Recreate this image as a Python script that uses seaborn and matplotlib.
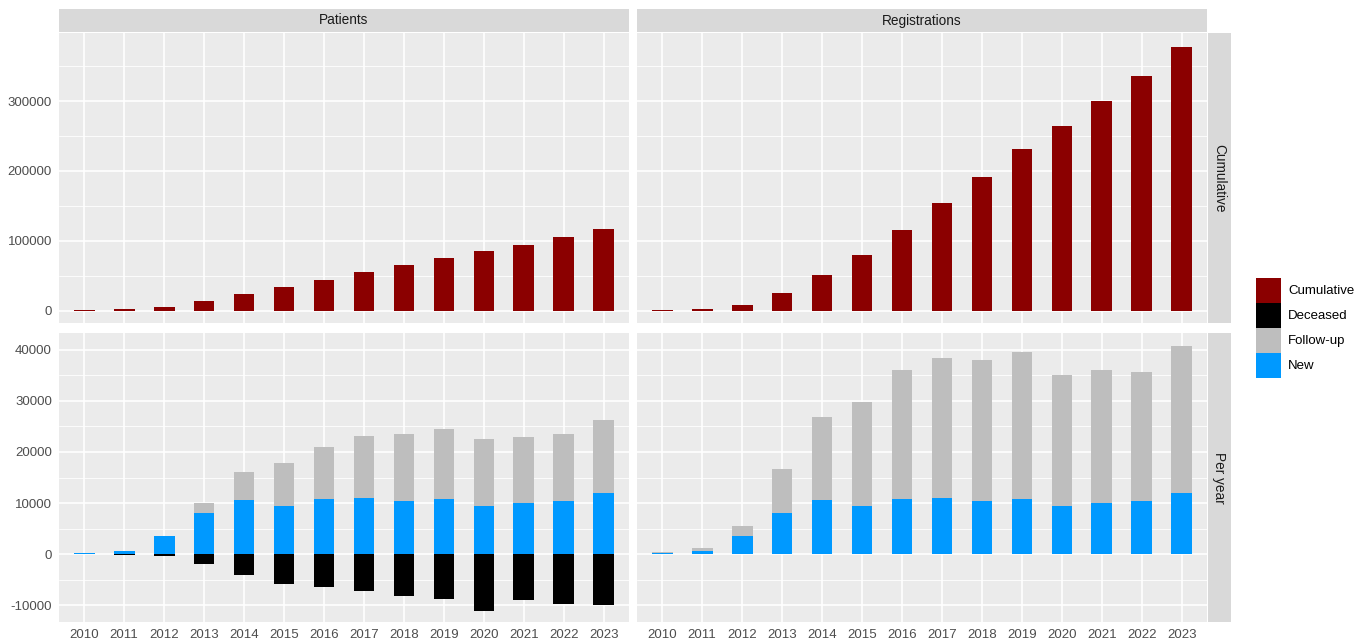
import numpy as np
import pandas as pd
import matplotlib
matplotlib.use("Agg")
import matplotlib.pyplot as plt
from matplotlib.patches import Rectangle
import seaborn as sns

# ---- data -------------------------------------------------------------
years = [2010, 2011, 2012, 2013, 2014, 2015, 2016, 2017, 2018, 2019, 2020, 2021, 2022, 2023]

patients_cumulative = [1500, 2000, 5500, 13900, 23800, 33300, 43800, 54800, 65200,
                       75200, 84800, 94300, 104800, 116700]
registrations_cumulative = [1500, 2000, 8100, 24700, 50700, 80100, 115600, 154000,
                            191300, 230700, 264800, 300700, 336200, 377000]

new_per_year = [300, 700, 3450, 8060, 10540, 9430, 10860, 10930, 10400, 10730,
                9370, 10080, 10470, 12030]
patients_followup = [0, 0, 130, 1890, 5460, 8330, 10140, 12220, 13080, 13860,
                     13130, 12810, 13070, 14310]
patients_deceased = [0, -200, -450, -1950, -4030, -5920, -6500, -7220, -8260, -8780,
                     -11060, -8980, -9690, -10020]
registrations_followup = [30, 400, 2080, 8660, 16260, 20290, 25170, 27380, 27520,
                          28940, 25620, 26020, 25170, 28820]

facet_cols = ["Patients", "Registrations"]
facet_rows = ["Cumulative", "Per year"]
legend_labels = ["Cumulative", "Deceased", "Follow-up", "New"]

colors = {"Cumulative": "#8B0000", "Deceased": "#000000",
          "Follow-up": "#BEBEBE", "New": "#0099FF"}

# ---- theme (ggplot2 grey look) ----------------------------------------
sns.set_theme(style="darkgrid")
plt.rcParams["font.family"] = ["Liberation Sans", "DejaVu Sans"]

W, H = 1367, 644
fig = plt.figure(figsize=(W / 100, H / 100), dpi=100)
fig.patch.set_facecolor("white")


def px_axes(x0, y0, x1, y1, **kw):
    return fig.add_axes([x0 / W, 1 - y1 / H, (x1 - x0) / W, (y1 - y0) / H], **kw)


panel_x = [(59, 629), (637, 1207)]
panel_y = [(33, 323), (333, 622)]

BG = "#EBEBEB"
STRIP = "#D9D9D9"
TICK_COL = "#4D4D4D"
BAR_W = 0.52

row_limits = [(-17600, 397300), (-13300, 43300)]
row_major = [[0, 100000, 200000, 300000], [-10000, 0, 10000, 20000, 30000, 40000]]
row_minor = [np.arange(50000, 400001, 100000), np.arange(-5000, 40001, 10000)]


def bars(ax, values, color):
    df = pd.DataFrame({"year": [str(y) for y in years], "value": values})
    sns.barplot(data=df, x="year", y="value", color=color, width=BAR_W,
                saturation=1, ax=ax, errorbar=None, linewidth=0)


panels = {}
for r in range(2):
    for c in range(2):
        x0, x1 = panel_x[c]
        y0, y1 = panel_y[r]
        ax = px_axes(x0, y0, x1, y1)
        panels[(r, c)] = ax
        ax.set_facecolor(BG)

        if r == 0:
            data = patients_cumulative if c == 0 else registrations_cumulative
            bars(ax, data, colors["Cumulative"])
        else:
            fup = patients_followup if c == 0 else registrations_followup
            total = [n + f for n, f in zip(new_per_year, fup)]
            bars(ax, total, colors["Follow-up"])
            bars(ax, new_per_year, colors["New"])
            if c == 0:
                bars(ax, patients_deceased, colors["Deceased"])

        ax.set_xlabel("")
        ax.set_ylabel("")
        ax.grid(False)
        ax.set_yticks(row_major[r])
        for yv in row_minor[r]:
            ax.axhline(yv, color="white", lw=0.6, zorder=0)
        for yv in row_major[r]:
            ax.axhline(yv, color="white", lw=1.2, zorder=0)
        for xv in range(len(years)):
            ax.axvline(xv, color="white", lw=1.2, zorder=0)
        ax.set_axisbelow(True)
        for s in ax.spines.values():
            s.set_visible(False)

        ax.tick_params(axis="both", which="major", length=3, width=0.9,
                       color="#333333", labelcolor=TICK_COL, labelsize=9.5, pad=2)
        if c == 0:
            ax.set_yticklabels([f"{v:d}" for v in row_major[r]])
        else:
            ax.tick_params(axis="y", length=0, labelleft=False)
        if r == 1:
            ax.set_xticks(range(len(years)))
            ax.set_xticklabels([str(y) for y in years])
        else:
            ax.tick_params(axis="x", length=0, labelbottom=False)

        ax.set_xlim(-0.63, len(years) - 1 + 0.63)
        ax.set_ylim(*row_limits[r])

# ---- facet strips -------------------------------------------------------
for c, label in enumerate(facet_cols):
    x0, x1 = panel_x[c]
    sax = px_axes(x0, 9, x1, 32)
    sax.set_facecolor(STRIP)
    sax.set_xticks([]); sax.set_yticks([])
    for s in sax.spines.values():
        s.set_visible(False)
    sax.text(0.5, 0.5, label, ha="center", va="center", fontsize=9.8,
             color="#1A1A1A", transform=sax.transAxes)

for r, label in enumerate(facet_rows):
    y0, y1 = panel_y[r]
    sax = px_axes(1208, y0, 1231, y1)
    sax.set_facecolor(STRIP)
    sax.set_xticks([]); sax.set_yticks([])
    for s in sax.spines.values():
        s.set_visible(False)
    sax.text(0.5, 0.5, label, ha="center", va="center", fontsize=9.8,
             rotation=-90, color="#1A1A1A", transform=sax.transAxes)

# ---- legend -------------------------------------------------------------
lax = px_axes(1256, 278, 1367, 378)
lax.set_xlim(0, 111)
lax.set_ylim(100, 0)
lax.axis("off")
for i, lab in enumerate(legend_labels):
    lax.add_patch(Rectangle((0, i * 25), 25, 25, facecolor=colors[lab],
                            edgecolor="none"))
    lax.text(32, i * 25 + 12.5, lab, va="center", ha="left", fontsize=9.5,
             color="#000000")

fig.savefig("out.png", dpi=100, facecolor="white")
